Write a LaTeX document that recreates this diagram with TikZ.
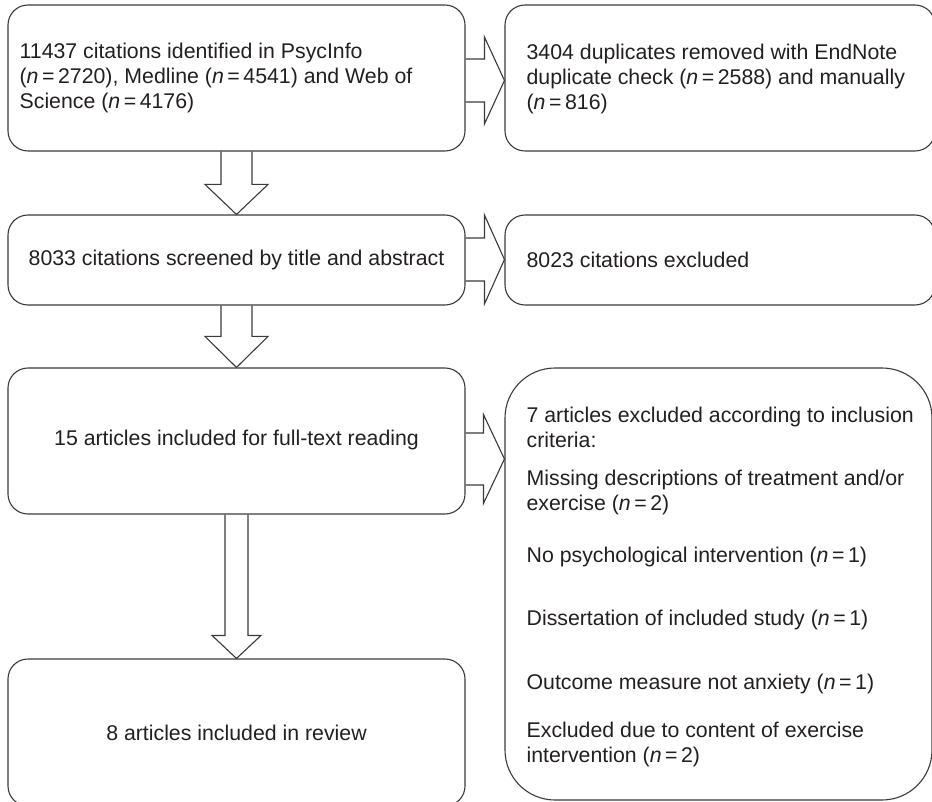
\documentclass[tikz,border=0pt]{standalone}
\usepackage{fontspec}
\setmainfont{Liberation Sans}
\usetikzlibrary{calc}
\definecolor{ln}{HTML}{3A3A3A}
\definecolor{tx}{HTML}{231F20}
\newcommand\eqn[1]{\textit{n}\,=\,#1}
\newcommand\dnarrow[5]{% from, to, shaft half, head half, head length
  \draw[blk] ($(#1)+(-#3,0)$) -- ($(#2)+(-#3,-#5)$) -- ($(#2)+(-#4,-#5)$) -- (#2)
    -- ($(#2)+(#4,-#5)$) -- ($(#2)+(#3,-#5)$) -- ($(#1)+(#3,0)$);}
\newcommand\rtarrow[5]{% from, tip, shaft half, head half, head length
  \draw[blk] ($(#1)+(0,-#3)$) -- ($(#2)+(-#5,-#3)$) -- ($(#2)+(-#5,-#4)$) -- (#2)
    -- ($(#2)+(-#5,#4)$) -- ($(#2)+(-#5,#3)$) -- ($(#1)+(0,#3)$);}
\tikzset{
  box/.style={draw=ln, line width=1.1pt, rounded corners=20pt, rectangle, inner sep=0pt},
  bigbox/.style={box, rounded corners=50pt},
  txt/.style={text=tx, font=\fontsize{21.3}{25}\selectfont, inner sep=0pt, align=left},
  blk/.style={draw=ln, line width=1.1pt, line join=miter},
}
\begin{document}
\begin{tikzpicture}[x=1pt,y=-1pt]
\clip (0,0) rectangle (932,802);
% boxes
\node[box, minimum width=457pt, minimum height=146pt] (b1) at (236.5,78) {};
\node[box, minimum width=457pt, minimum height=90pt] (b2) at (236.5,260) {};
\node[box, minimum width=457pt, minimum height=146pt] (b3) at (236.5,441) {};
\node[box, minimum width=457pt, minimum height=147pt] (b4) at (236.5,732.5) {};
\node[box, minimum width=430pt, minimum height=146pt] (rb1) at (720,78) {};
\node[box, minimum width=430pt, minimum height=90pt] (rb2) at (720,260) {};
\node[bigbox, minimum width=427pt, minimum height=432pt] (rb3) at (718.5,584) {};
% texts
\node[txt, anchor=west] (t1) at ($(b1.west)+(12,0)$) {11437 citations identified in PsycInfo\\(\eqn{2720}), Medline (\eqn{4541}) and Web of\\Science (\eqn{4176})};
\node[txt] (t2) at (b2.center) {8033 citations screened by title and abstract};
\node[txt] (t3) at ($(b3.center)+(0,-1)$) {15 articles included for full-text reading};
\node[txt] (t4) at (b4.center) {8 articles included in review};
\node[txt, anchor=west] (rt1) at ($(rb1.west)+(22,1)$) {3404 duplicates removed with EndNote\\duplicate check (\eqn{2588}) and manually\\(\eqn{816})};
\node[txt, anchor=west] (rt2) at ($(rb2.west)+(22,0)$) {8023 citations excluded};
\node[txt, anchor=west] (rt3) at ($(rb3.west)+(22,2.5)$) {7 articles excluded according to inclusion\\
criteria:\\[13pt]
Missing descriptions of treatment and/or\\
exercise (\eqn{2})\\[27pt]
No psychological intervention (\eqn{1})\\[38pt]
Dissertation of included study (\eqn{1})\\[39pt]
Outcome measure not anxiety (\eqn{1})\\[23pt]
Excluded due to content of exercise\\
intervention (\eqn{2})};
% block arrows
\dnarrow{b1.south}{b2.north}{15.5}{31.5}{30}
\dnarrow{b2.south}{b3.north}{15.5}{31.5}{31}
\dnarrow{b3.south}{b4.north}{11.5}{24.5}{23}
\coordinate (S1) at ($(b1.east)+(0,2.5)$);
\coordinate (T1) at (rb1.west |- S1);
\coordinate (S2) at ($(b2.east)+(0,-0.5)$);
\coordinate (T2) at (rb2.west |- S2);
\coordinate (S3) at ($(b3.east)+(0,18)$);
\coordinate (T3) at (rb3.west |- S3);
\rtarrow{S1}{T1}{21.5}{43.5}{20}
\rtarrow{S2}{T2}{21.5}{44.5}{20}
\rtarrow{S3}{T3}{26}{44.5}{21}
\end{tikzpicture}
\end{document}
